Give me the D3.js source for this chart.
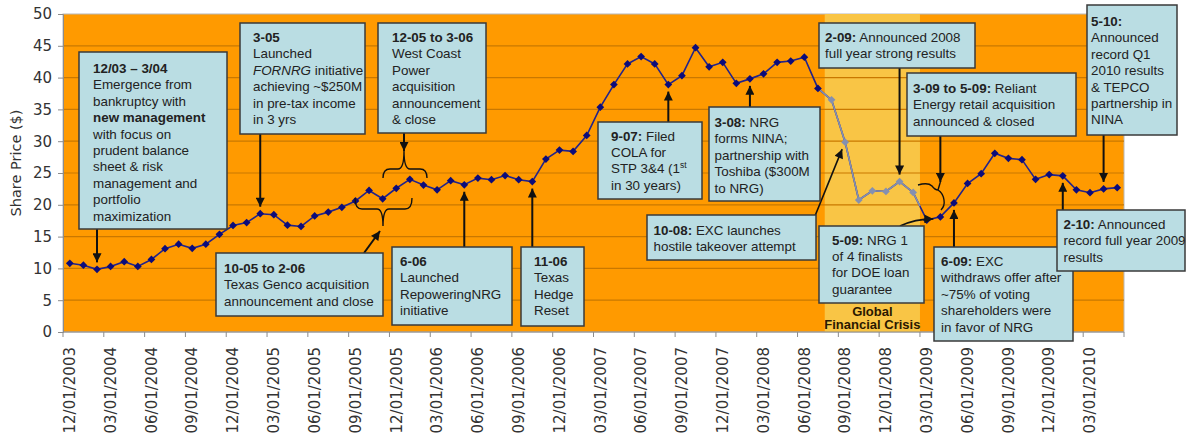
<!DOCTYPE html>
<html>
<head>
<meta charset="utf-8">
<script src="https://cdn.jsdelivr.net/npm/d3@7"></script>
<style>
    body { margin: 0; background: #ffffff; }
    svg { display: block; }
</style>
</head>
<body>
<svg width="1195" height="441"></svg>
<script>
// month-end NRG share price, Dec 2003 .. May 2010
let firstMonth = new Date(2003, 11, 1),
    lastMonth = new Date(2010, 5, 1);
let sharePrice = [
    10.8, 10.5, 9.85, 10.3, 11.05, 10.3, 11.4, 13.1, 13.8, 13.15, 13.8, 15.35,
    16.75, 17.2, 18.6, 18.45, 16.8, 16.6, 18.25, 18.85, 19.6, 20.6, 22.25, 20.95,
    22.6, 24.0, 23.1, 22.35, 23.8, 23.15, 24.2, 23.95, 24.6, 23.95, 23.65, 27.2,
    28.6, 28.4, 30.9, 35.35, 38.9, 42.15, 43.3, 42.15, 38.9, 40.3, 44.7, 41.7,
    42.4, 39.1, 39.8, 40.6, 42.4, 42.6, 43.2, 38.3, 36.5, 29.85, 20.75, 22.2,
    22.1, 23.65, 21.95, 17.6, 18.1, 20.3, 23.35, 24.9, 28.1, 27.3, 27.1, 24.0,
    24.75, 24.55, 22.35, 21.9, 22.5, 22.7
];
// grey points = global financial crisis window
let crisisFirst = 56,
    crisisLast = 62;
let yTicks = [0, 5, 10, 15, 20, 25, 30, 35, 40, 45, 50];
let xTickLabels = [
    '12/01/2003', '03/01/2004', '06/01/2004', '09/01/2004', '12/01/2004',
    '03/01/2005', '06/01/2005', '09/01/2005', '12/01/2005', '03/01/2006',
    '06/01/2006', '09/01/2006', '12/01/2006', '03/01/2007', '06/01/2007',
    '09/01/2007', '12/01/2007', '03/01/2008', '06/01/2008', '09/01/2008',
    '12/01/2008', '03/01/2009', '06/01/2009', '09/01/2009', '12/01/2009',
    '03/01/2010'
];
let crisisLabel = ['Global', 'Financial Crisis'];

// callout boxes: ** bold **, _ italic _, ^ superscript ^
let notes = [
    { box: [79, 52, 148, 177], tx: 93, ty: 73, at: 2,
      lines: ['**12/03 – 3/04**', 'Emergence from', 'bankruptcy with', '**new management**',
              'with focus on', 'prudent balance', 'sheet & risk', 'management and',
              'portfolio', 'maximization'] },
    { box: [240, 23, 125, 111], tx: 253, ty: 42, at: 14,
      lines: ['**3-05**', 'Launched', '_FORNRG_ initiative', 'achieving ~$250M',
              'in pre-tax income', 'in 3 yrs'] },
    { box: [378, 23, 108, 110], tx: 392, ty: 42,
      lines: ['**12-05 to 3-06**', 'West Coast', 'Power', 'acquisition', 'announcement', '& close'] },
    { box: [216, 253, 167, 63], tx: 224, ty: 273,
      lines: ['**10-05 to 2-06**', 'Texas Genco acquisition', 'announcement and close'] },
    { box: [392, 247, 120, 78], tx: 400, ty: 266, at: 29,
      lines: ['**6-06**', 'Launched', 'RepoweringNRG', 'initiative'] },
    { box: [521, 247, 63, 79], tx: 534, ty: 266, at: 34,
      lines: ['**11-06**', 'Texas', 'Hedge', 'Reset'] },
    { box: [598, 122, 104, 77], tx: 611, ty: 140.5, at: 44,
      lines: ['**9-07:** Filed', 'COLA for', 'STP 3&4 (1^st^', 'in 30 years)'] },
    { box: [709, 107, 111, 94], tx: 714.5, ty: 127, at: 50,
      lines: ['**3-08:** NRG', 'forms NINA;', 'partnership with', 'Toshiba ($300M', 'to NRG)'] },
    { box: [647, 215, 169, 45], tx: 653.5, ty: 234.5,
      lines: ['**10-08:** EXC launches', 'hostile takeover attempt'] },
    { box: [819, 23, 156, 45], tx: 825, ty: 42, at: 61,
      lines: ['**2-09:** Announced 2008', 'full year strong results'] },
    { box: [907, 73, 169, 63], tx: 913, ty: 93,
      lines: ['**3-09 to 5-09:** Reliant', 'Energy retail acquisition', 'announced & closed'] },
    { box: [819, 226, 105, 77], tx: 832, ty: 244.5,
      lines: ['**5-09:** NRG 1', 'of 4 finalists', 'for DOE loan', 'guarantee'] },
    { box: [934, 247, 139, 94], tx: 941, ty: 266, at: 65,
      lines: ['**6-09:** EXC', 'withdraws offer after', '~75% of voting',
              'shareholders were', 'in favor of NRG'] },
    { box: [1057, 210, 128, 61], tx: 1063.5, ty: 229, at: 73,
      lines: ['**2-10:** Announced', 'record full year 2009', 'results'] },
    { box: [1087, 5, 90, 130], tx: 1091, ty: 26, at: 76,
      lines: ['**5-10:**', 'Announced', 'record Q1', '2010 results', '& TEPCO',
              'partnership in', 'NINA'] }
];

function main() {
    let svg = d3.select('svg'),
        margin = { top: 14, bottom: 109, left: 63, right: 71 },
        width = svg.attr('width') - margin.left - margin.right,
        height = svg.attr('height') - margin.top - margin.bottom;

    let months = d3.timeMonth.range(firstMonth, lastMonth);

    //Scales
    let xScale = d3
            .scaleBand()
            .domain(d3.range(months.length))
            .range([margin.left, margin.left + width]),
        yScale = d3
            .scaleLinear()
            .domain([0, 50])
            .range([margin.top + height, margin.top]);
    let bw = xScale.bandwidth();
    let cx = (i) => xScale(i) + bw / 2;

    //Arrowhead
    svg.append('defs')
        .append('marker')
        .attr('id', 'head')
        .attr('viewBox', '0 0 10 10')
        .attr('refX', 10)
        .attr('refY', 5)
        .attr('markerWidth', 11)
        .attr('markerHeight', 9)
        .attr('markerUnits', 'userSpaceOnUse')
        .attr('orient', 'auto')
        .append('path')
        .attr('d', 'M0,0 L10,5 L0,10 z')
        .attr('fill', '#111');

    //Plot background + crisis band
    svg.append('rect')
        .attr('x', margin.left)
        .attr('y', margin.top)
        .attr('width', width)
        .attr('height', height)
        .attr('fill', '#ff9a00')
        .attr('stroke', '#b8b8b8');
    svg.append('rect')
        .attr('x', xScale(crisisFirst))
        .attr('y', margin.top)
        .attr('width', xScale(crisisLast) + bw - xScale(crisisFirst))
        .attr('height', height)
        .attr('fill', '#f9c545');

    //Gridlines
    svg.append('g')
        .selectAll('line')
        .data(yTicks.filter((t) => t > 0 && t < 50))
        .enter()
        .append('line')
        .attr('x1', margin.left)
        .attr('x2', margin.left + width)
        .attr('y1', (d) => yScale(d))
        .attr('y2', (d) => yScale(d))
        .attr('stroke', '#c97800')
        .attr('stroke-width', 1.2);

    //Y Axis
    let yAxis = svg
        .append('g')
        .attr('transform', 'translate(' + margin.left + ', 0)')
        .call(d3.axisLeft(yScale).tickValues(yTicks).tickSize(5).tickPadding(6));
    yAxis.select('.domain').attr('stroke', '#8c8c8c');
    yAxis.selectAll('.tick line').attr('stroke', '#8c8c8c');
    yAxis.selectAll('text')
        .style('font-family', '"DejaVu Sans", Verdana, sans-serif')
        .style('font-size', '15px')
        .attr('fill', '#333');

    svg.append('text')
        .attr('text-anchor', 'middle')
        .attr('transform', 'translate(16,' + (margin.top + 149) + ') rotate(-90)')
        .attr('dy', '0.35em')
        .style('font-family', '"DejaVu Sans", Verdana, sans-serif')
        .style('font-size', '14.5px')
        .attr('fill', '#333')
        .text('Share Price ($)');

    //X Axis
    let xAxis = svg.append('g');
    xAxis.append('line')
        .attr('x1', margin.left)
        .attr('x2', margin.left + width)
        .attr('y1', margin.top + height)
        .attr('y2', margin.top + height)
        .attr('stroke', '#8c8c8c');
    let tickIdx = d3.range(0, months.length + 1, 3);
    xAxis.selectAll('line.tk')
        .data(tickIdx)
        .enter()
        .append('line')
        .attr('class', 'tk')
        .attr('x1', (d) => (d < months.length ? xScale(d) : margin.left + width))
        .attr('x2', (d) => (d < months.length ? xScale(d) : margin.left + width))
        .attr('y1', margin.top + height)
        .attr('y2', margin.top + height + 5)
        .attr('stroke', '#8c8c8c');
    xAxis.selectAll('text')
        .data(xTickLabels)
        .enter()
        .append('text')
        .attr('text-anchor', 'end')
        .attr('transform', (d, i) =>
            'translate(' + cx(i * 3) + ',' + (margin.top + height + 15) + ') rotate(-90)')
        .attr('dy', '0.35em')
        .style('font-family', '"DejaVu Sans", Verdana, sans-serif')
        .style('font-size', '15px')
        .attr('fill', '#333')
        .text((d) => d);

    //Crisis label
    svg.append('g')
        .selectAll('text')
        .data(crisisLabel)
        .enter()
        .append('text')
        .attr('text-anchor', 'middle')
        .attr('x', (xScale(crisisFirst) + xScale(crisisLast) + bw) / 2)
        .attr('y', (d, i) => 316 + i * 13)
        .style('font-family', '"Liberation Sans", Arial, sans-serif')
        .style('font-size', '13px')
        .style('font-weight', 'bold')
        .attr('fill', '#2a1800')
        .text((d) => d);

    //Line
    let line = d3.line().x((d, i) => cx(i)).y((d) => yScale(d));
    svg.append('path')
        .datum(sharePrice)
        .attr('d', line)
        .attr('fill', 'none')
        .attr('stroke', '#23238a')
        .attr('stroke-width', 1.6);
    let greyPts = d3.range(crisisFirst - 1, crisisLast + 1).map((i) => [cx(i), yScale(sharePrice[i])]);
    greyPts.push([
        (cx(crisisLast) + cx(crisisLast + 1)) / 2,
        (yScale(sharePrice[crisisLast]) + yScale(sharePrice[crisisLast + 1])) / 2
    ]);
    svg.append('path')
        .attr('d', d3.line()(greyPts))
        .attr('fill', 'none')
        .attr('stroke', '#8590b0')
        .attr('stroke-width', 1.6);

    let diamond = d3.symbol().type(d3.symbolSquare).size(30);
    svg.append('g')
        .selectAll('path')
        .data(sharePrice)
        .enter()
        .append('path')
        .attr('d', diamond)
        .attr('transform', (d, i) => 'translate(' + cx(i) + ',' + yScale(d) + ') rotate(45)')
        .attr('fill', (d, i) => (i >= crisisFirst && i <= crisisLast ? '#8590b0' : '#0c0c7a'));

    //Arrows + braces
    let ink = svg.append('g')
        .attr('fill', 'none')
        .attr('stroke', '#111');
    notes.filter((n) => n.at !== undefined).forEach((n) => {
        let px = cx(n.at),
            py = yScale(sharePrice[n.at]),
            top = n.box[1],
            bottom = n.box[1] + n.box[3];
        let from = bottom < py ? bottom : top,
            to = bottom < py ? py - 7 : py + 7;
        ink.append('line')
            .attr('x1', px).attr('x2', px)
            .attr('y1', from).attr('y2', to)
            .attr('stroke-width', 2)
            .attr('marker-end', 'url(#head)');
    });
    // 12-05 to 3-06 (brace above line)
    ink.append('line').attr('x1', 404).attr('x2', 404).attr('y1', 133).attr('y2', 151)
        .attr('stroke-width', 2).attr('marker-end', 'url(#head)');
    ink.append('path').attr('stroke-width', 1.4)
        .attr('d', 'M383,178 Q383,169 390,169 L398,169 Q404,169 404,151 Q404,169 410,169 L420,169 Q427,169 427,178');
    // 10-05 to 2-06 (brace below line)
    ink.append('path').attr('stroke-width', 1.4)
        .attr('d', 'M355,198 Q355,209 362,209 L377,209 Q383,209 383,226 Q383,209 389,209 L405,209 Q412,209 412,198');
    ink.append('line').attr('x1', 364).attr('x2', 380).attr('y1', 253).attr('y2', 231)
        .attr('stroke-width', 2).attr('marker-end', 'url(#head)');
    // 10-08 EXC bid
    ink.append('line')
        .attr('x1', 815).attr('y1', 216)
        .attr('x2', cx(57) - 3).attr('y2', yScale(sharePrice[57]) + 7)
        .attr('stroke-width', 1.6).attr('marker-end', 'url(#head)');
    // 3-09 to 5-09 Reliant (sideways brace)
    ink.append('line').attr('x1', cx(64)).attr('x2', cx(64)).attr('y1', 136).attr('y2', 182)
        .attr('stroke-width', 2).attr('marker-end', 'url(#head)');
    ink.append('path').attr('stroke-width', 1.4)
        .attr('d', 'M918,185 Q928,182 932,186 Q935,190 938,190 L' + cx(64) + ',182 M938,190 Q943,193 944,200 Q945,206 941,210');
    // 5-09 DOE loan
    ink.append('path')
        .attr('d', 'M900,226 Q915,219 ' + (cx(64) - 7) + ',' + (yScale(sharePrice[64]) + 2))
        .attr('stroke-width', 1.8).attr('marker-end', 'url(#head)');

    //Callout boxes
    let boxes = svg.append('g')
        .style('font-family', '"Liberation Sans", Arial, sans-serif')
        .style('font-size', '13.4px');
    notes.forEach((n) => {
        let g = boxes.append('g');
        g.append('rect')
            .attr('x', n.box[0])
            .attr('y', n.box[1])
            .attr('width', n.box[2])
            .attr('height', n.box[3])
            .attr('fill', '#badde3')
            .attr('stroke', '#3a3a3a')
            .attr('stroke-width', 1.5);
        n.lines.forEach((ln, k) => {
            let t = g.append('text')
                .attr('x', n.tx)
                .attr('y', n.ty + k * 16.4)
                .attr('fill', '#222');
            ln.split(/(\*\*[^*]+\*\*|_[^_]+_|\^[^^]+\^)/).filter((s) => s).forEach((s) => {
                if (s.startsWith('**')) {
                    t.append('tspan').style('font-weight', 'bold').text(s.slice(2, -2));
                } else if (s.startsWith('_')) {
                    t.append('tspan').style('font-style', 'italic').text(s.slice(1, -1));
                } else if (s.startsWith('^')) {
                    t.append('tspan').attr('dy', -5).style('font-size', '8.5px').text(s.slice(1, -1));
                } else {
                    t.append('tspan').text(s);
                }
            });
        });
    });
}

main();
</script>
</body>
</html>
